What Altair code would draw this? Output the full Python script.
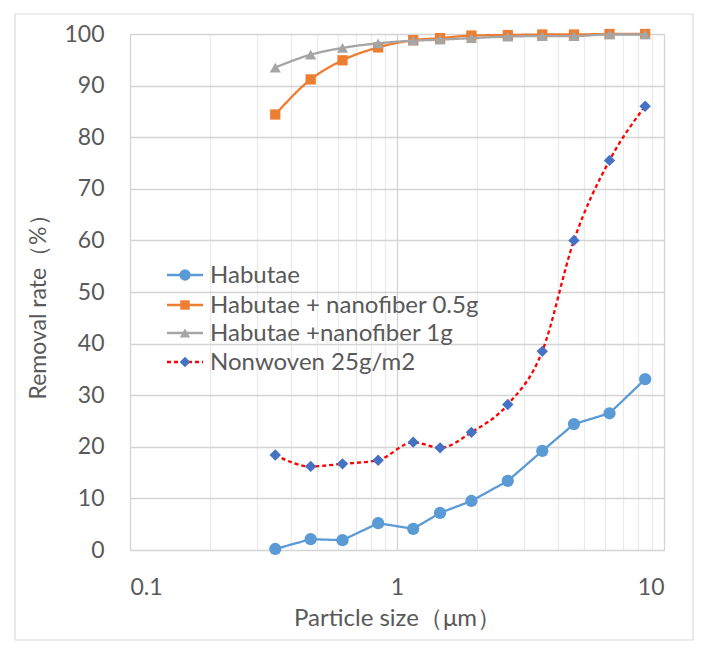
import altair as alt
import pandas as pd

sizes = [0.35, 0.475, 0.625, 0.85, 1.15, 1.45, 1.9, 2.6, 3.5, 4.6, 6.25, 8.5]
habutae = [0.2, 2.1, 1.9, 5.2, 4.1, 7.2, 9.5, 13.4, 19.2, 24.4, 26.5, 33.1]
nano05 = [84.4, 91.2, 94.9, 97.4, 98.8, 99.2, 99.7, 99.8, 99.9, 99.9, 100.0, 100.0]
nano1 = [93.5, 96.0, 97.3, 98.2, 98.7, 98.9, 99.2, 99.5, 99.6, 99.6, 99.9, 99.9]
nonwoven = [18.4, 16.2, 16.7, 17.4, 20.9, 19.8, 22.8, 28.2, 38.5, 60.0, 75.5, 86.0]

series_names = ["Habutae", "Habutae + nanofiber 0.5g", "Habutae +nanofiber 1g", "Nonwoven 25g/m2"]
series_vals = [habutae, nano05, nano1, nonwoven]
line_colors = ["#5B9BD5", "#ED7D31", "#A5A5A5", "#FF0000"]
point_colors = ["#5B9BD5", "#ED7D31", "#A5A5A5", "#4472C4"]
shapes = ["circle", "square", "triangle-up", "diamond"]
point_sizes = [150, 105, 125, 130]
interps = ["linear", "monotone", "monotone", "monotone"]
dashes = [[1, 0], [1, 0], [1, 0], [4, 3]]

x_ticks = [0.1, 0.2, 0.3, 0.4, 0.5, 0.6, 0.7, 0.8, 0.9,
           1, 2, 3, 4, 5, 6, 7, 8, 9, 10]
y_ticks = [0, 10, 20, 30, 40, 50, 60, 70, 80, 90, 100]

FONT = "Lato"
TXT = "#595959"
W, H = 534, 516

major_test = "abs(log(datum.value)/LN10 - round(log(datum.value)/LN10)) < 0.001"

x_enc = alt.X(
    "size:Q",
    scale=alt.Scale(type="log", domain=[0.1, 10], nice=False),
    axis=alt.Axis(
        values=x_ticks, format="~g",
        labelExpr=f"({major_test}) ? datum.label : ''",
        title="Particle size（μm）",
        gridColor=alt.condition(major_test, alt.value("#d4d4d4"), alt.value("#ebebeb")),
        gridWidth=1.3, domain=False, ticks=False,
        labelPadding=26, labelFontSize=23, labelColor=TXT, labelFont=FONT,
        titleFontSize=24, titleColor=TXT, titleFont=FONT, titleFontWeight="normal",
        titleY=68, titleBaseline="middle",
    ),
)
y_enc = alt.Y(
    "value:Q",
    scale=alt.Scale(domain=[0, 100], nice=False),
    axis=alt.Axis(
        values=y_ticks, title="Removal rate（%）",
        gridColor="#d4d4d4", gridWidth=1.3, domain=False, ticks=False,
        labelPadding=26, labelFontSize=23, labelColor=TXT, labelFont=FONT,
        titleFontSize=23, titleColor=TXT, titleFont=FONT, titleFontWeight="normal",
        titleX=-92, titleY=267, titleAngle=270, titleAlign="center", titleBaseline="middle",
    ),
)

layers = []

# outer chart border
frame = alt.Chart(pd.DataFrame({"a": [0]})).mark_rect(
    fill=None, stroke="#d9d9d9", strokeWidth=1.2
).encode(x=alt.value(-115), x2=alt.value(563), y=alt.value(-20), y2=alt.value(606))
layers.append(frame)

for name, vals, lc, pc, sh, ps, it, da in zip(
        series_names, series_vals, line_colors, point_colors, shapes, point_sizes, interps, dashes):
    df = pd.DataFrame({"size": sizes, "value": vals, "series": name})
    base = alt.Chart(df)
    layers.append(base.mark_line(color=lc, strokeWidth=2.3, interpolate=it, strokeDash=da).encode(x=x_enc, y=y_enc))
    layers.append(base.mark_point(shape=sh, filled=True, color=pc, size=ps, opacity=1).encode(x=x_enc, y=y_enc))

# manual legend
leg_y = [241, 271, 299, 328]
for name, lc, pc, sh, ps, da, ly in zip(series_names, line_colors, point_colors, shapes, point_sizes, dashes, leg_y):
    ld = alt.Chart(pd.DataFrame({"series": [name]}))
    layers.append(ld.mark_rule(color=lc, strokeWidth=2.3, strokeDash=da).encode(
        x=alt.value(37), x2=alt.value(73), y=alt.value(ly)))
    layers.append(ld.mark_point(shape=sh, filled=True, color=pc, size=ps * 0.85, opacity=1).encode(
        x=alt.value(55), y=alt.value(ly)))
    layers.append(ld.mark_text(align="left", baseline="middle", font=FONT, fontSize=24, color=TXT).encode(
        x=alt.value(80), y=alt.value(ly + 1), text="series:N"))

chart = alt.layer(*layers).properties(
    width=W, height=H,
    autosize=alt.AutoSizeParams(type="none"),
    padding={"left": 122, "top": 26, "right": 38, "bottom": 94},
).configure_view(stroke=None).configure(background="white")

chart.save("out.html", embed_options={"renderer": "svg", "actions": False})
